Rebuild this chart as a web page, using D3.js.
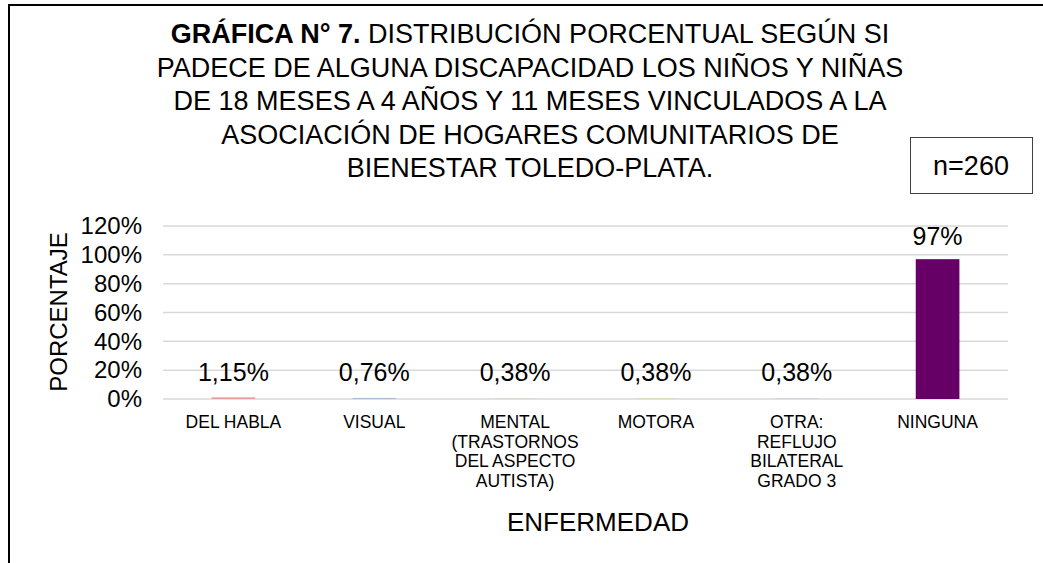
<!DOCTYPE html>
<html>
<head>
<meta charset="utf-8">
<script src="https://cdn.jsdelivr.net/npm/d3@7"></script>
<style>
  body { margin: 0; background: #fff; }
  svg { font-family: Arial, "Liberation Sans", sans-serif; }
</style>
</head>
<body>
<svg id="chart" width="1043" height="563"></svg>
<script>
// datos de la gráfica
const categorias = [
  ["DEL HABLA"],
  ["VISUAL"],
  ["MENTAL", "(TRASTORNOS", "DEL ASPECTO", "AUTISTA)"],
  ["MOTORA"],
  ["OTRA:", "REFLUJO", "BILATERAL", "GRADO 3"],
  ["NINGUNA"]
];
const valores = [1.15, 0.76, 0.38, 0.38, 0.38, 97];
const etiquetas = ["1,15%", "0,76%", "0,38%", "0,38%", "0,38%", "97%"];
const colores = ["#e89c9c", "#a9bed6", "#c6dcb6", "#e3d3aa", "#cbbfe0", "#660066"];
const ticks = [0, 20, 40, 60, 80, 100, 120];
const titulo = [
  "DISTRIBUCIÓN PORCENTUAL SEGÚN SI",
  "PADECE DE ALGUNA DISCAPACIDAD LOS NIÑOS Y NIÑAS",
  "DE 18 MESES A 4 AÑOS Y 11 MESES VINCULADOS A LA",
  "ASOCIACIÓN DE HOGARES COMUNITARIOS DE",
  "BIENESTAR TOLEDO-PLATA."
];

const svg = d3.select('#chart');

// marco (solo izquierda y arriba visibles)
svg.append('path')
  .attr('d', 'M9,563V5H1043')
  .attr('fill', 'none')
  .attr('stroke', '#000')
  .attr('stroke-width', 2);

// titulo
const t = svg.append('text')
  .attr('text-anchor', 'middle')
  .attr('font-size', 27)
  .attr('fill', '#000');
titulo.forEach((line, i) => {
  const ts = t.append('tspan')
    .attr('x', 530)
    .attr('y', 43 + i * 33.5);
  if (i === 0) {
    ts.append('tspan').attr('font-weight', 'bold').text('GRÁFICA N° 7. ');
    ts.append('tspan').text(line);
  } else {
    ts.text(line);
  }
});

// caja n=260
svg.append('rect')
  .attr('x', 910.5).attr('y', 137.5)
  .attr('width', 122).attr('height', 56)
  .attr('fill', '#fff').attr('stroke', '#404040').attr('stroke-width', 1);
svg.append('text')
  .attr('x', 971).attr('y', 175)
  .attr('text-anchor', 'middle')
  .attr('font-size', 27)
  .text('n=260');

const margin = {left: 163, right: 35};
const W = 1043;

const x = d3.scaleBand()
  .domain(d3.range(categorias.length))
  .range([margin.left, W - margin.right])
  .paddingInner(0.69)
  .paddingOuter(0.345);

const y = d3.scaleLinear()
  .domain([0, 120])
  .range([399, 226]);

// rejilla
svg.append('g')
  .selectAll('line')
  .data(ticks)
  .enter()
  .append('line')
  .attr('x1', margin.left)
  .attr('x2', W - margin.right)
  .attr('y1', d => y(d))
  .attr('y2', d => y(d))
  .attr('stroke', '#d9d9d9')
  .attr('stroke-width', 1.5);

// eje y
const yAxis = svg.append('g')
  .attr('transform', `translate(${margin.left},0)`)
  .call(d3.axisLeft(y).tickValues(ticks).tickFormat(d => d + '%').tickSize(0).tickPadding(21));
yAxis.select('.domain').remove();
yAxis.selectAll('text')
  .attr('font-size', 24)
  .attr('fill', '#000')
  .attr('font-family', 'Arial, "Liberation Sans", sans-serif');

// barras
svg.append('g')
  .selectAll('rect')
  .data(valores)
  .enter()
  .append('rect')
  .attr('x', (d, i) => x(i))
  .attr('width', x.bandwidth())
  .attr('y', d => y(d))
  .attr('height', d => y(0) - y(d))
  .attr('fill', (d, i) => colores[i]);

// etiquetas de datos
svg.append('g')
  .selectAll('text')
  .data(valores)
  .enter()
  .append('text')
  .attr('x', (d, i) => x(i) + x.bandwidth() / 2)
  .attr('y', d => Math.min(y(d) - 14, 381))
  .attr('text-anchor', 'middle')
  .attr('font-size', 25)
  .attr('fill', '#000')
  .text((d, i) => etiquetas[i]);

// etiquetas de categorias
const cat = svg.append('g')
  .selectAll('text')
  .data(categorias)
  .enter()
  .append('text')
  .attr('text-anchor', 'middle')
  .attr('font-size', 17.5)
  .attr('fill', '#000');
cat.each(function(lines, i) {
  d3.select(this).selectAll('tspan')
    .data(lines)
    .enter()
    .append('tspan')
    .attr('x', x(i) + x.bandwidth() / 2)
    .attr('y', (d, j) => 428 + j * 19.5)
    .text(d => d);
});

// titulos de ejes
svg.append('text')
  .attr('x', 598).attr('y', 531)
  .attr('text-anchor', 'middle')
  .attr('font-size', 26)
  .text('ENFERMEDAD');

svg.append('text')
  .attr('transform', 'translate(67,312) rotate(-90)')
  .attr('text-anchor', 'middle')
  .attr('font-size', 24)
  .text('PORCENTAJE');
</script>
</body>
</html>
